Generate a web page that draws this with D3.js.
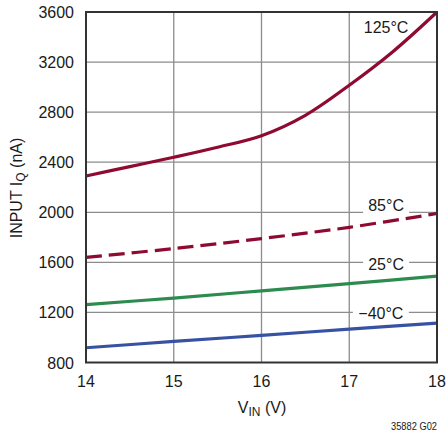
<!DOCTYPE html>
<html>
<head>
<meta charset="utf-8">
<script src="https://cdn.jsdelivr.net/npm/d3@7"></script>
<style>
  body { margin: 0; background: #fff; }
  svg text { font-family: "Liberation Sans", Arial, sans-serif; fill: #1a1a1a; }
</style>
</head>
<body>
<svg id="chart" width="447" height="434"></svg>
<script>
// values
const vin = [14, 14.5, 15, 15.5, 16, 16.5, 17, 17.5, 18]
const iq125 = [2290, 2365, 2440, 2520, 2612, 2775, 3015, 3285, 3600]
const vinLin = [14, 15, 16, 17, 18]
const iq85 = [1640, 1710, 1790, 1880, 1990]
const iq25 = [1262, 1315, 1372, 1430, 1490]
const iqM40 = [918, 968, 1017, 1066, 1115]
const xTicks = [14, 15, 16, 17, 18]
const yTicks = [800, 1200, 1600, 2000, 2400, 2800, 3200, 3600]

const svg = d3.select('#chart')
const m = {left: 86, right: 437, top: 12, bottom: 362.5}

const x = d3.scaleLinear().domain([14, 18]).range([m.left, m.right])
const y = d3.scaleLinear().domain([800, 3600]).range([m.bottom, m.top])

// grid
svg.append('g').selectAll('line.v')
    .data(xTicks.slice(1, -1))
    .enter().append('line')
    .attr('x1', d => x(d)).attr('x2', d => x(d))
    .attr('y1', m.top).attr('y2', m.bottom)
    .style('stroke', '#8c8c8c').style('stroke-width', 1.3)
svg.append('g').selectAll('line.h')
    .data(yTicks.slice(1, -1))
    .enter().append('line')
    .attr('x1', m.left).attr('x2', m.right)
    .attr('y1', d => y(d)).attr('y2', d => y(d))
    .style('stroke', '#8c8c8c').style('stroke-width', 1.3)

// curve labels (white box hides the grid behind them)
const labels = [
    {t: '125°C', v: 17.42, iq: 3432, w: 0},
    {t: '85°C', v: 17.42, iq: 2010, w: 46},
    {t: '25°C', v: 17.42, iq: 1539, w: 46},
    {t: '\u221240°C', v: 17.36, iq: 1147, w: 56}
]
labels.forEach(l => {
    if (l.w) {
        svg.append('rect')
            .attr('x', x(l.v) - l.w / 2).attr('y', y(l.iq) - 15)
            .attr('width', l.w).attr('height', 18)
            .style('fill', '#fff')
    }
})

// series
const lineGen = d3.line().x(d => x(d[0])).y(d => y(d[1])).curve(d3.curveCatmullRom)
const series = [
    {xs: vin, ys: iq125, color: '#8e0a30', dash: null},
    {xs: vinLin, ys: iq85, color: '#8e0a30', dash: '16,7'},
    {xs: vinLin, ys: iq25, color: '#2e8b4f', dash: null},
    {xs: vinLin, ys: iqM40, color: '#3752a3', dash: null}
]
series.forEach(s => {
    const pts = s.xs.map((v, i) => [v, s.ys[i]])
    svg.append('path')
        .attr('d', lineGen(pts))
        .style('fill', 'none')
        .style('stroke', s.color)
        .style('stroke-width', 3.2)
        .style('stroke-dasharray', s.dash)
})

labels.forEach(l => {
    svg.append('text')
        .attr('x', x(l.v)).attr('y', y(l.iq))
        .attr('text-anchor', 'middle')
        .style('font-size', '16px')
        .text(l.t)
})

// frame
svg.append('rect')
    .attr('x', m.left).attr('y', m.top)
    .attr('width', m.right - m.left).attr('height', m.bottom - m.top)
    .style('fill', 'none').style('stroke', '#333').style('stroke-width', 2)

// tick labels
svg.append('g').selectAll('text')
    .data(yTicks)
    .enter().append('text')
    .attr('x', 74).attr('y', d => y(d) + 6)
    .attr('text-anchor', 'end')
    .style('font-size', '16px')
    .text(d => d)
svg.append('g').selectAll('text')
    .data(xTicks)
    .enter().append('text')
    .attr('x', d => x(d)).attr('y', 387)
    .attr('text-anchor', 'middle')
    .style('font-size', '16px')
    .text(d => d)

// axis titles
const xt = svg.append('text')
    .attr('x', 262).attr('y', 413)
    .attr('text-anchor', 'middle')
    .style('font-size', '16px')
xt.append('tspan').text('V')
xt.append('tspan').attr('dy', 3).style('font-size', '12px').text('IN')
xt.append('tspan').attr('dy', -3).text(' (V)')

const yt = svg.append('text')
    .attr('transform', 'translate(22,188) rotate(-90)')
    .attr('text-anchor', 'middle')
    .style('font-size', '16px')
yt.append('tspan').text('INPUT I')
yt.append('tspan').attr('dy', 3).style('font-size', '12px').text('Q')
yt.append('tspan').attr('dy', -3).text(' (nA)')

svg.append('text')
    .attr('x', 437).attr('y', 430)
    .attr('text-anchor', 'end')
    .attr('textLength', 46).attr('lengthAdjust', 'spacingAndGlyphs')
    .style('font-size', '10.5px')
    .text('35882 G02')
</script>
</body>
</html>
